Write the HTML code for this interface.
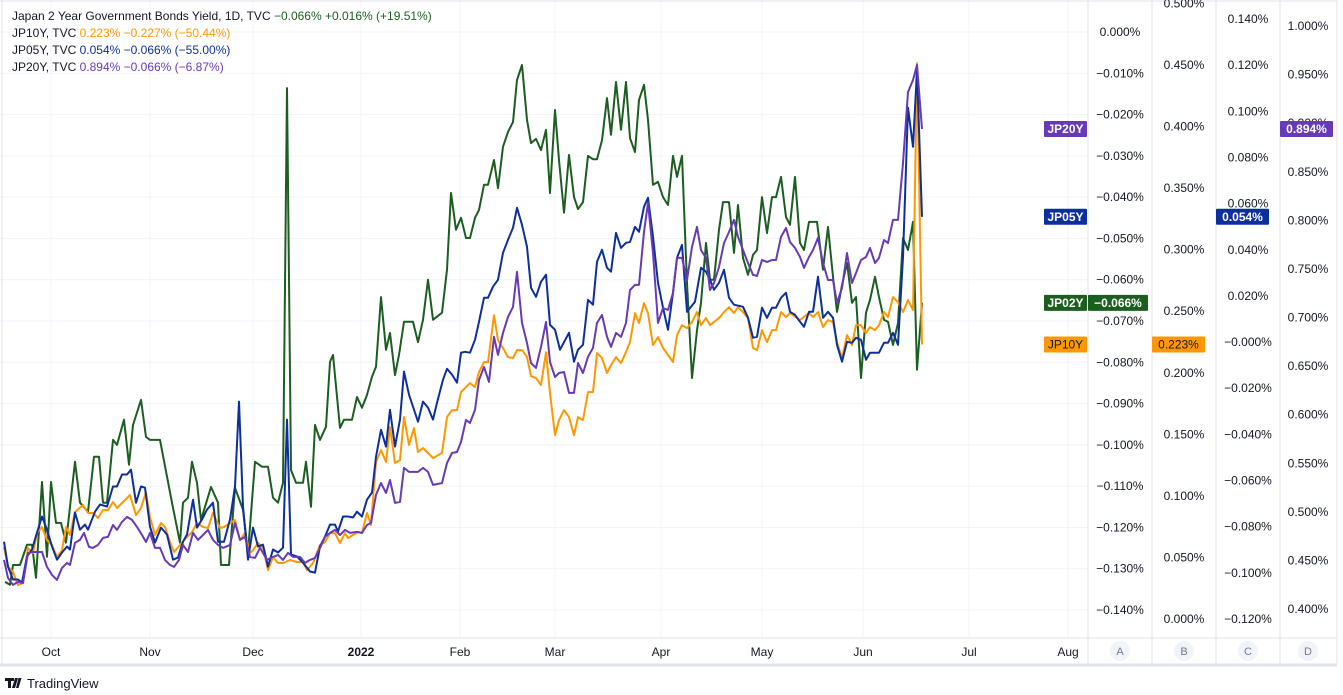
<!DOCTYPE html>
<html><head><meta charset="utf-8"><title>Japan Government Bond Yields</title>
<style>
html,body{margin:0;padding:0;background:#fff;}
svg{display:block;font-family:"Liberation Sans",sans-serif;}
</style></head>
<body>
<svg id="chart" width="1343" height="695" viewBox="0 0 1343 695" xmlns="http://www.w3.org/2000/svg">
  <rect x="0" y="0" width="1343" height="695" fill="#ffffff"/>
  <g id="grid"></g>
  <g id="series" clip-path="url(#plotclip)"></g>
  <defs><clipPath id="plotclip"><rect x="0" y="0" width="1088" height="638"/></clipPath></defs>
  <g id="axes"></g>
  <g id="legend" font-size="12">
    <text x="12" y="20"><tspan fill="#131722">Japan 2 Year Government Bonds Yield, 1D, TVC </tspan><tspan fill="#1b5e20"> −0.066%  +0.016% (+19.51%)</tspan></text>
    <text x="12" y="37"><tspan fill="#131722">JP10Y, TVC </tspan><tspan fill="#ff9800"> 0.223%  −0.227% (−50.44%)</tspan></text>
    <text x="12" y="54"><tspan fill="#131722">JP05Y, TVC </tspan><tspan fill="#0d2f9c"> 0.054%  −0.066% (−55.00%)</tspan></text>
    <text x="12" y="71"><tspan fill="#131722">JP20Y, TVC </tspan><tspan fill="#673ab7"> 0.894%  −0.066% (−6.87%)</tspan></text>
  </g>
  <g>
    <path d="M5 678 h9 v3 h-3 v7 h-3 v-7 h-3 z M15 678 h3 l-3 10 h-3 z M18.5 678 h3 l-3 10 h-2.5 z" fill="#131722"/>
    <text x="27" y="688" font-size="13" fill="#131722">TradingView</text>
  </g>
</svg>
<script>
// ---- data: [session index, yield %] ----
const monthNames = ["Oct","Nov","Dec","2022","Feb","Mar","Apr","May","Jun","Jul","Aug"];
const monthSessions = [10.2,30,50.6,72.2,92,111,132.2,152.4,172.6,193.8,213.6];
const ticksA = [0,-0.01,-0.02,-0.03,-0.04,-0.05,-0.06,-0.07,-0.08,-0.09,-0.10,-0.11,-0.12,-0.13,-0.14];
const ticksB = [0.5,0.45,0.4,0.35,0.3,0.25,0.2,0.15,0.1,0.05,0];
const ticksC = [0.14,0.12,0.10,0.08,0.06,0.04,0.02,0,-0.02,-0.04,-0.06,-0.08,-0.10,-0.12];
const ticksD = [1.0,0.95,0.9,0.85,0.8,0.75,0.7,0.65,0.6,0.55,0.5,0.45,0.4];

const jp02 = [[1,-0.1332],[2,-0.1339],[2.6,-0.1291],[4,-0.1291],[5.4,-0.1242],[6.4,-0.1242],[7.2,-0.1322],[8.4,-0.1090],[9.4,-0.1271],[10.2,-0.1090],[11.2,-0.1189],[12.2,-0.1189],[13.2,-0.1237],[15,-0.1041],[16,-0.1140],[17.6,-0.1162],[18.8,-0.1029],[19.8,-0.1029],[20.6,-0.1140],[21.4,-0.1140],[22.6,-0.0988],[23.4,-0.1000],[24.8,-0.0939],[25.8,-0.1048],[26.6,-0.0952],[28.2,-0.0891],[29.2,-0.0981],[30,-0.0988],[32,-0.0988],[34.4,-0.1140],[36,-0.1237],[36.6,-0.1140],[37.6,-0.1128],[38.4,-0.1041],[39.4,-0.1092],[40.2,-0.1182],[42.2,-0.1102],[43.6,-0.1140],[44.2,-0.1291],[45.8,-0.1291],[47,-0.1104],[48.6,-0.1157],[49.6,-0.1261],[51,-0.1041],[52.4,-0.1053],[53.6,-0.1053],[54.6,-0.1128],[55.6,-0.1140],[56.6,-0.1092],[57.4,-0.0136],[58.2,-0.1061],[59.2,-0.1092],[60.6,-0.1092],[61.2,-0.1041],[62.2,-0.1150],[63,-0.0952],[64,-0.0988],[65.2,-0.0956],[66,-0.0799],[66.6,-0.0782],[68,-0.0959],[68.8,-0.0939],[70.4,-0.0939],[71.4,-0.0884],[72.4,-0.0910],[73.4,-0.0879],[74.4,-0.0835],[75.2,-0.0811],[76.2,-0.0642],[77.2,-0.0770],[78,-0.0729],[79,-0.0831],[79.8,-0.0782],[80.8,-0.0702],[82.6,-0.0702],[83.6,-0.0751],[84.6,-0.0697],[85.6,-0.0600],[86.6,-0.0697],[88.4,-0.0680],[89.4,-0.0576],[90.2,-0.0390],[91.2,-0.0479],[92.2,-0.0450],[93.2,-0.0499],[94,-0.0499],[95,-0.0450],[95.8,-0.0431],[96.8,-0.0370],[97.6,-0.0370],[98.8,-0.0310],[99.6,-0.0378],[100.6,-0.0278],[101.6,-0.0242],[102.6,-0.0218],[103.4,-0.0116],[104.4,-0.0080],[105.4,-0.0213],[106.2,-0.0269],[107.2,-0.0259],[108.2,-0.0286],[109.2,-0.0237],[110,-0.0390],[111,-0.0189],[111.8,-0.0310],[112.8,-0.0438],[113.8,-0.0298],[114.8,-0.0400],[115.6,-0.0429],[116.6,-0.0412],[117.6,-0.0300],[118.6,-0.0308],[119.4,-0.0308],[120.4,-0.0262],[121.4,-0.0160],[122.2,-0.0249],[123.2,-0.0121],[124.2,-0.0237],[125.2,-0.0121],[126,-0.0257],[127,-0.0291],[127.8,-0.0165],[128.8,-0.0128],[129.6,-0.0213],[130.6,-0.0370],[131.6,-0.0363],[132.6,-0.0400],[133.6,-0.0419],[134.6,-0.0300],[135.4,-0.0351],[136.4,-0.0300],[137.4,-0.0608],[138.4,-0.0838],[139.4,-0.0722],[140.2,-0.0656],[141.2,-0.0511],[142,-0.0600],[142.8,-0.0600],[143.8,-0.0479],[144.6,-0.0412],[145.8,-0.0412],[146.8,-0.0535],[147.6,-0.0419],[148.6,-0.0547],[149.6,-0.0588],[150.6,-0.0540],[151.4,-0.0528],[152.4,-0.0400],[153.4,-0.0487],[154.4,-0.0400],[155.2,-0.0400],[156.2,-0.0351],[157.2,-0.0448],[158,-0.0467],[159,-0.0351],[160,-0.0511],[160.8,-0.0528],[161.8,-0.0460],[163.4,-0.0460],[164.6,-0.0576],[165.6,-0.0472],[166.6,-0.0593],[167.4,-0.0678],[168.4,-0.0613],[169.4,-0.0559],[170.4,-0.0656],[171.2,-0.0642],[172.2,-0.0838],[173.2,-0.0680],[174,-0.0649],[175,-0.0593],[175.8,-0.0642],[176.8,-0.0697],[177.6,-0.0702],[178.6,-0.0758],[179.6,-0.0705],[180.6,-0.0499],[181.6,-0.0528],[182.6,-0.0460],[183.4,-0.0818],[184.4,-0.0656]];

const jp05 = [[0.8,-0.0865],[1.6,-0.0973],[2.6,-0.1029],[3.6,-0.1029],[4.4,-0.1042],[5.4,-0.0929],[6.4,-0.0899],[7.4,-0.0826],[8.4,-0.0756],[9.4,-0.0813],[10.4,-0.0886],[11.4,-0.0943],[12.4,-0.0912],[13.4,-0.0886],[14,-0.0899],[15,-0.0739],[16,-0.0813],[17,-0.0791],[17.6,-0.0813],[19,-0.0735],[20,-0.0704],[21.4,-0.0713],[22.6,-0.0626],[23.4,-0.0626],[24.4,-0.0574],[25.4,-0.0574],[26.2,-0.0553],[27.2,-0.0696],[28.2,-0.0626],[29,-0.0631],[30,-0.0800],[31,-0.0869],[32.2,-0.0804],[33.4,-0.0834],[34.6,-0.0943],[35.6,-0.0934],[36.6,-0.0865],[37.4,-0.0834],[38.6,-0.0683],[39.4,-0.0804],[40.4,-0.0769],[41.4,-0.0726],[42.6,-0.0696],[43.6,-0.0865],[44.8,-0.0865],[46,-0.0769],[47,-0.0626],[47.8,-0.0258],[48.6,-0.0713],[49.6,-0.0943],[50.6,-0.0804],[51.6,-0.0886],[52.6,-0.0878],[53.6,-0.0973],[54.6,-0.0899],[55.6,-0.0912],[56.6,-0.0891],[57.4,-0.0336],[58.2,-0.0921],[59.4,-0.0929],[60.6,-0.0956],[62,-0.0994],[63,-0.0999],[64,-0.0886],[65,-0.0843],[66,-0.0791],[67,-0.0791],[67.6,-0.0821],[68.6,-0.0756],[69.6,-0.0756],[70.6,-0.0760],[71.4,-0.0735],[72.4,-0.0756],[73.4,-0.0683],[74.4,-0.0652],[75.2,-0.0497],[76.2,-0.0380],[77.2,-0.0453],[78,-0.0293],[79,-0.0453],[80,-0.0336],[80.8,-0.0128],[81.8,-0.0228],[83.6,-0.0345],[84.6,-0.0258],[85.6,-0.0284],[86.6,-0.0336],[87.4,-0.0263],[88.6,-0.0163],[89.4,-0.0116],[90.4,-0.0141],[91.4,-0.0176],[92.2,-0.0046],[93,-0.0042],[94,-0.0046],[95,0.0010],[95.8,0.0088],[96.8,0.0192],[97.6,0.0192],[98.6,0.0240],[99.6,0.0270],[100.6,0.0387],[101.6,0.0443],[102.6,0.0495],[103.4,0.0582],[104.4,0.0508],[105.4,0.0413],[106.2,0.0235],[107.2,0.0196],[108.2,0.0261],[109.2,0.0292],[110,0.0075],[111,0.0053],[112,-0.0033],[113.8,0.0040],[114.8,-0.0085],[115.6,-0.0033],[116.6,-0.0012],[117.6,0.0183],[118.6,0.0162],[119.4,0.0348],[120.4,0.0400],[121.4,0.0322],[122.2,0.0305],[123.2,0.0473],[124.2,0.0408],[125.2,0.0430],[126,0.0434],[127,0.0499],[127.8,0.0478],[128.8,0.0586],[129.6,0.0625],[130.6,0.0456],[131.6,0.0257],[132.6,0.0149],[133.6,0.0053],[134.6,0.0214],[135.4,0.0365],[136.4,0.0421],[137.4,0.0131],[139,0.0175],[140.2,0.0322],[141.2,0.0305],[142,0.0270],[142.8,0.0227],[143.8,0.0257],[144.8,0.0313],[145.8,0.0192],[146.8,0.0162],[148.6,0.0153],[149.6,0.0105],[150.6,0.0019],[151.4,0.0023],[152.4,0.0149],[153.4,0.0105],[154.4,0.0149],[155.2,0.0149],[156.2,0.0192],[157.2,0.0214],[158,0.0131],[159,0.0118],[160,0.0088],[160.8,0.0066],[161.8,0.0131],[162.6,0.0131],[163.6,0.0283],[164.6,0.0105],[165.6,0.0131],[166.6,0.0105],[167.4,-0.0012],[168.4,-0.0085],[169.4,0.0001],[170.4,-0.0003],[171.2,0.0019],[172.2,0.0010],[173.2,-0.0077],[174,-0.0046],[175.8,-0.0046],[176.8,-0.0003],[177.6,-0.0003],[178.6,0.0040],[179.6,-0.0012],[180.6,0.0369],[181.6,0.1015],[182.6,0.0846],[183.4,0.1179],[184.4,0.0543]];

const jp10 = [[0.8,0.0585],[1.6,0.0422],[2.6,0.0382],[3.6,0.0276],[4.6,0.0292],[5.6,0.0577],[6.6,0.0536],[7.4,0.0698],[8.4,0.0747],[9.4,0.0641],[10.4,0.0601],[11.4,0.0503],[12.4,0.0560],[13.2,0.0747],[14,0.0682],[15,0.0869],[16.6,0.0926],[17.6,0.0861],[18.6,0.0861],[19.6,0.0820],[20.6,0.0885],[21.6,0.0885],[22.6,0.0950],[23.4,0.0901],[24.6,0.0950],[26,0.1007],[27.2,0.0844],[28.2,0.0901],[29.2,0.1031],[30,0.0828],[31,0.0682],[32.2,0.0780],[33,0.0747],[34,0.0625],[34.8,0.0544],[36,0.0601],[37.4,0.0666],[38.4,0.0706],[39.4,0.0780],[40.6,0.0747],[41.6,0.0739],[42.6,0.0861],[44,0.0739],[44.8,0.0747],[46,0.0780],[47,0.0804],[48,0.0641],[49,0.0698],[50,0.0536],[50.6,0.0560],[51.6,0.0617],[52.6,0.0577],[53.6,0.0398],[54.6,0.0503],[55.6,0.0455],[56.6,0.0455],[58,0.0479],[59.4,0.0463],[60.6,0.0463],[61.4,0.0398],[62.6,0.0455],[64,0.0601],[65,0.0625],[66,0.0698],[67,0.0698],[68,0.0617],[69,0.0698],[69.6,0.0658],[70.6,0.0682],[71.6,0.0706],[72.4,0.0698],[73.4,0.0861],[74.2,0.0763],[75.2,0.1275],[76.2,0.1372],[77.2,0.1275],[78,0.1559],[79,0.1267],[80,0.1291],[80.8,0.1640],[81.8,0.1413],[82.8,0.1551],[83.6,0.1356],[84.6,0.1389],[86.6,0.1307],[88.4,0.1348],[89.4,0.1640],[90.4,0.1697],[91.4,0.1697],[92.2,0.1843],[94,0.1916],[95,0.1884],[95.8,0.2006],[96.8,0.2087],[97.6,0.2087],[98.8,0.2468],[99.6,0.2265],[100.6,0.2201],[101.6,0.2127],[102.6,0.2119],[103.4,0.2184],[104.4,0.2184],[105.4,0.2127],[106.2,0.1973],[107.2,0.1957],[108.2,0.1900],[109.2,0.2168],[110,0.1835],[111,0.1494],[111.8,0.1616],[112.8,0.1697],[113.8,0.1640],[114.8,0.1494],[115.6,0.1640],[116.6,0.1616],[117.6,0.1843],[118.6,0.1843],[119.4,0.2160],[120.4,0.2119],[121.4,0.1998],[122.2,0.2062],[123.2,0.2127],[124.2,0.2079],[125.2,0.2168],[126,0.2249],[127,0.2485],[127.8,0.2404],[128.8,0.2566],[129.6,0.2485],[130.6,0.2225],[131.6,0.2290],[132.6,0.2201],[133.6,0.2144],[134.6,0.2087],[135.4,0.2306],[136.4,0.2387],[137.4,0.2363],[138.4,0.2412],[139.4,0.2493],[140.2,0.2387],[141.2,0.2444],[142,0.2387],[143.8,0.2444],[144.8,0.2493],[145.8,0.2533],[146.8,0.2485],[147.6,0.2533],[148.6,0.2493],[149.6,0.2444],[150.6,0.2201],[151.4,0.2184],[152.4,0.2347],[153.4,0.2249],[154.4,0.2347],[155.2,0.2347],[156.2,0.2493],[157.2,0.2452],[158,0.2485],[160,0.2428],[161.8,0.2485],[162.6,0.2452],[163.6,0.2493],[164.6,0.2371],[165.6,0.2428],[166.6,0.2412],[167.4,0.2249],[168.4,0.2119],[169.4,0.2306],[170.4,0.2225],[171.2,0.2387],[172.2,0.2387],[173.2,0.2322],[174,0.2371],[175,0.2347],[175.8,0.2387],[176.8,0.2493],[177.6,0.2452],[178.6,0.2615],[179.6,0.2574],[180.6,0.2493],[181.6,0.2590],[182.6,0.2509],[183.4,0.4515],[184.4,0.2230]];

const jp20 = [[0.8,0.4505],[1.6,0.4320],[2.6,0.4248],[3.6,0.4279],[4.6,0.4268],[5.6,0.4577],[6.6,0.4587],[8.4,0.4587],[9.4,0.4433],[10.4,0.4351],[11.4,0.4299],[12.4,0.4423],[13.4,0.4474],[14,0.4454],[15,0.4680],[16,0.4711],[16.8,0.4783],[17.8,0.4639],[18.6,0.4629],[19.6,0.4660],[20.6,0.4732],[21.6,0.4742],[22.6,0.4865],[23.4,0.4814],[24.4,0.4896],[25.4,0.4948],[26.4,0.4917],[27.4,0.4845],[28.4,0.4762],[29.2,0.4690],[30,0.4783],[31,0.4629],[32,0.4629],[33,0.4505],[34,0.4454],[34.8,0.4433],[35.8,0.4505],[36.6,0.4660],[37.6,0.4587],[38.6,0.4783],[39.6,0.4711],[40.6,0.4762],[41.6,0.4814],[42.6,0.4711],[43.6,0.4660],[44.6,0.4629],[46,0.4660],[47,0.4886],[48,0.4711],[49,0.4742],[50,0.4536],[51,0.4526],[52,0.4629],[53.4,0.4505],[54.6,0.4536],[55.6,0.4557],[56.6,0.4505],[57.6,0.4577],[58.6,0.4536],[60,0.4536],[61,0.4474],[62,0.4505],[63,0.4526],[64,0.4629],[65,0.4742],[66,0.4783],[67,0.4814],[68,0.4762],[69,0.4814],[70,0.4783],[71.4,0.4793],[72.4,0.4783],[73.4,0.4865],[74.2,0.4886],[75.2,0.5174],[76.2,0.5297],[77.2,0.5195],[78,0.5328],[79,0.5092],[80,0.5102],[80.8,0.5452],[81.8,0.5411],[83.6,0.5411],[84.6,0.5452],[85.6,0.5411],[86.6,0.5277],[88.4,0.5297],[89.4,0.5503],[90.4,0.5606],[91.4,0.5616],[92.2,0.5719],[93.2,0.5946],[94,0.5915],[95,0.6049],[95.8,0.6357],[96.8,0.6491],[97.8,0.6337],[98.8,0.6800],[99.6,0.6615],[100.6,0.6841],[101.6,0.7006],[102.6,0.7109],[103.4,0.7469],[104.4,0.6944],[105.4,0.6738],[106.2,0.6532],[107.2,0.6481],[108.2,0.6697],[109.2,0.6954],[110,0.6543],[111,0.6388],[111.8,0.6429],[112.8,0.6439],[113.8,0.6224],[114.8,0.6224],[115.6,0.6532],[116.6,0.6429],[117.6,0.6594],[118.6,0.6687],[119.4,0.6944],[120.4,0.7026],[121.4,0.6800],[122.2,0.6697],[123.2,0.6841],[124.2,0.6800],[125.2,0.6944],[126,0.7283],[127,0.7335],[127.8,0.7335],[128.8,0.7880],[129.6,0.8179],[130.6,0.7664],[131.6,0.6944],[132.6,0.7098],[133.6,0.7078],[134.6,0.7253],[135.4,0.7613],[136.4,0.7613],[137.4,0.7386],[138.4,0.7726],[139.4,0.7932],[140.2,0.7695],[141.2,0.7613],[142,0.7283],[142.8,0.7355],[143.8,0.7520],[144.8,0.7767],[145.8,0.7880],[146.8,0.8004],[147.6,0.7829],[148.6,0.7695],[149.6,0.7561],[150.6,0.7438],[151.4,0.7428],[152.4,0.7592],[153.4,0.7572],[154.4,0.7592],[155.2,0.7592],[156.2,0.7829],[157.2,0.7921],[158,0.7777],[159,0.7716],[160,0.7623],[160.8,0.7510],[161.8,0.7623],[162.6,0.7695],[163.6,0.7819],[164.6,0.7561],[165.6,0.7386],[166.6,0.7386],[167.4,0.7150],[168.4,0.7304],[169.4,0.7664],[170.4,0.7355],[171.2,0.7458],[172.2,0.7592],[173.2,0.7623],[174,0.7716],[175,0.7561],[175.8,0.7613],[176.8,0.7798],[177.6,0.7767],[178.6,0.8004],[179.6,0.8004],[180.6,0.8590],[181.6,0.9321],[182.6,0.9444],[183.4,0.9599],[184.4,0.8940]];

// ---- scales ----
const NS = 'http://www.w3.org/2000/svg';
const PLOT_R = 1088, PLOT_B = 638;
const xScale = s => s * (PLOT_R / 217.6);
const yA = v => 32 + (0 - v) * (578 / 0.14);
const yB = v => 619 - v * (554 / 0.45);
const yC = v => 19 + (0.14 - v) * (600 / 0.26);
const yD = v => 26 + (1 - v) * (583 / 0.6);

function mk(tag, attrs, parent) {
  const e = document.createElementNS(NS, tag);
  for (const k in attrs) e.setAttribute(k, attrs[k]);
  parent.appendChild(e);
  return e;
}
const fmt = v => (v < 0 || Object.is(v, -0) ? '\u2212' : '') + Math.abs(v).toFixed(3) + '%';

const grid = document.getElementById('grid');
const axes = document.getElementById('axes');
const series = document.getElementById('series');

// horizontal grid (from axis A ticks)
ticksA.forEach(t => {
  const l = mk('line', {x1: 0, x2: PLOT_R, y1: yA(t), y2: yA(t), stroke: '#f0f3fa', 'stroke-width': 1}, grid);
  
  
});
// vertical grid + month labels
monthSessions.forEach((s, i) => {
  const l = mk('line', {x1: xScale(s), x2: xScale(s), y1: 0, y2: PLOT_B, stroke: '#f0f3fa', 'stroke-width': 1}, grid);
  
  
  const t = mk('text', {x: xScale(s), y: 656, 'text-anchor': 'middle', 'font-size': 12, fill: '#131722', 'font-weight': monthNames[i] === '2022' ? 'bold' : 'normal'}, axes);
  t.textContent = monthNames[i];
  
  
});

// frame lines
[[0,638,1337,638],[0,665,1337,665],[1088,0,1088,665],[1152,0,1152,665],[1216,0,1216,665],[1280,0,1280,665],[1337,0,1337,665],[2,0,2,665],[0,1,1337,1]].forEach(c => {
  const l = mk('line', {x1: c[0], y1: c[1], x2: c[2], y2: c[3], stroke: '#e0e3eb', 'stroke-width': (c[1] === 665 && c[3] === 665) ? 3 : 1}, axes);
  
  
});

// axis labels
function axisLabels(ticks, scale, cx, name) {
  ticks.forEach(t => {
    const tx = mk('text', {x: cx, y: scale(t) + 4, 'text-anchor': 'middle', 'font-size': 12, fill: '#131722'}, axes);
    tx.textContent = (name === 'axis-c' && t === 0) ? '\u22120.000%' : fmt(t);
    
    
  });
}
axisLabels(ticksA, yA, 1120, 'axis-a');
axisLabels(ticksB, yB, 1184, 'axis-b');
axisLabels(ticksC, yC, 1248, 'axis-c');
axisLabels(ticksD, yD, 1308, 'axis-d');

// axis letter circles
[['A',1120],['B',1184],['C',1248],['D',1308]].forEach(a => {
  const c = mk('circle', {cx: a[1], cy: 651, r: 10, fill: '#f0f3fa'}, axes);
  
  
  const t = mk('text', {x: a[1], y: 655, 'text-anchor': 'middle', 'font-size': 11, fill: '#787b86'}, axes);
  t.textContent = a[0];
  
  
});

// series lines
const seriesDefs = [
  {data: jp02, scale: yA, color: '#1b5e20', name: 'jp02y-line'},
  {data: jp10, scale: yB, color: '#ff9800', name: 'jp10y-line'},
  {data: jp05, scale: yC, color: '#0d2f9c', name: 'jp05y-line'},
  {data: jp20, scale: yD, color: '#673ab7', name: 'jp20y-line'}
];
seriesDefs.forEach(d => {
  const pts = d.data.map(p => xScale(p[0]).toFixed(1) + ',' + d.scale(p[1]).toFixed(1)).join(' ');
  const pl = mk('polyline', {points: pts, fill: 'none', stroke: d.color, 'stroke-width': 2, 'stroke-linejoin': 'round'}, series);
  
  
});

// last-value badges
function badge(x, w, cy, bg, fg, text, name) {
  const r = mk('rect', {x: x, y: cy - 8, width: w, height: 16, fill: bg, rx: 1}, axes);
  
  
  const t = mk('text', {x: x + w / 2, y: cy + 4, 'text-anchor': 'middle', 'font-size': 12, fill: fg, 'font-weight': fg === '#fff' ? 'bold' : 'normal'}, axes);
  t.textContent = text;
  
  
}
const last = arr => arr[arr.length - 1][1];
badge(1044, 43, yD(last(jp20)), '#673ab7', '#fff', 'JP20Y', 'jp20y-name-badge');
badge(1280, 53, yD(last(jp20)), '#673ab7', '#fff', fmt(last(jp20)), 'jp20y-value-badge');
badge(1044, 43, yC(last(jp05)), '#0d2f9c', '#fff', 'JP05Y', 'jp05y-name-badge');
badge(1216, 53, yC(last(jp05)), '#0d2f9c', '#fff', fmt(last(jp05)), 'jp05y-value-badge');
badge(1044, 43, yA(last(jp02)), '#1b5e20', '#fff', 'JP02Y', 'jp02y-name-badge');
badge(1088, 60, yA(last(jp02)), '#1b5e20', '#fff', fmt(last(jp02)), 'jp02y-value-badge');
badge(1044, 43, yB(last(jp10)), '#ff9800', '#131722', 'JP10Y', 'jp10y-name-badge');
badge(1152, 53, yB(last(jp10)), '#ff9800', '#131722', fmt(last(jp10)), 'jp10y-value-badge');
</script>
</body></html>
